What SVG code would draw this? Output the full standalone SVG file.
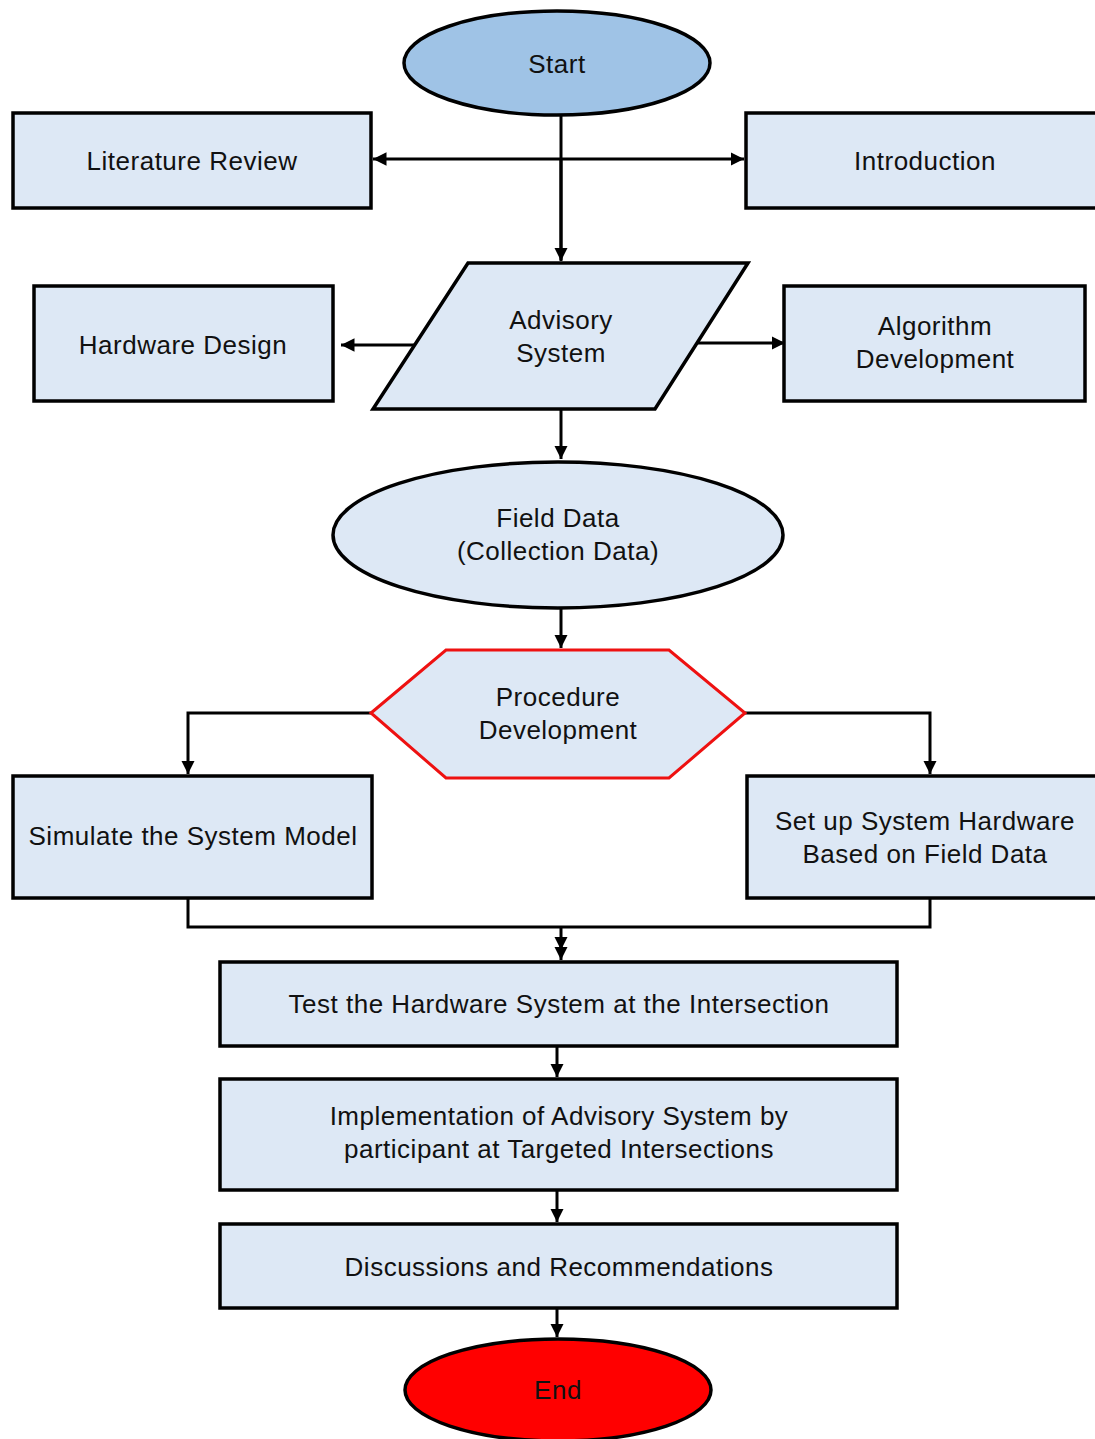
<svg xmlns="http://www.w3.org/2000/svg" width="1095" height="1439" viewBox="0 0 1095 1439">
<defs>
<marker id="ah" viewBox="0 0 10 10" refX="10" refY="5" markerWidth="4.5" markerHeight="4.5" orient="auto" markerUnits="strokeWidth">
<path d="M0,0 L10,5 L0,10 z" fill="#000"/>
</marker>
<style>
.box{fill:#dde8f5;stroke:#000;stroke-width:3.5}
.t{font-family:"Liberation Sans",Arial,sans-serif;font-size:26px;letter-spacing:0.5px;fill:#111;text-anchor:middle}
.c{fill:none;stroke:#000;stroke-width:3}
.ca{fill:none;stroke:#000;stroke-width:3;marker-end:url(#ah)}
</style>
</defs>
<rect width="1095" height="1439" fill="#fff"/>
<g id="connectors">
<path class="c" d="M561,115 V260"/>
<path class="ca" d="M561,159 H373"/>
<path class="ca" d="M561,159 H744"/>
<path class="ca" d="M561,159 V261"/>
<path class="ca" d="M414,345 H341"/>
<path class="ca" d="M697,343 H785"/>
<path class="ca" d="M561,409 V459"/>
<path class="ca" d="M561,608 V648"/>
<path class="ca" d="M371,713 H188 V774"/>
<path class="ca" d="M745,713 H930 V774"/>
<path class="c" d="M188,898 V927 H930 V898"/>
<path class="ca" d="M561,927 V950"/>
<path class="ca" d="M561,940 V960"/>
<path class="ca" d="M557,1046 V1077"/>
<path class="ca" d="M557,1190 V1222"/>
<path class="ca" d="M557,1308 V1337"/>
</g>
<g id="start">
<ellipse cx="557" cy="63" rx="153" ry="52" fill="#9fc3e6" stroke="#000" stroke-width="3.5"/>
<text class="t" x="557" y="73">Start</text>
</g>
<g id="literature-review">
<rect class="box" x="13" y="113" width="358" height="95"/>
<text class="t" x="192" y="170">Literature Review</text>
</g>
<g id="introduction">
<rect class="box" x="746" y="113" width="360" height="95"/>
<text class="t" x="925" y="170">Introduction</text>
</g>
<g id="advisory-system">
<polygon class="box" points="468,263 748,263 655,409 373,409"/>
<text class="t" x="561" y="329">Advisory</text>
<text class="t" x="561" y="362">System</text>
</g>
<g id="hardware-design">
<rect class="box" x="34" y="286" width="299" height="115"/>
<text class="t" x="183" y="354">Hardware Design</text>
</g>
<g id="algorithm-development">
<rect class="box" x="784" y="286" width="301" height="115"/>
<text class="t" x="935" y="335">Algorithm</text>
<text class="t" x="935" y="368">Development</text>
</g>
<g id="field-data">
<ellipse cx="558" cy="535" rx="225" ry="73" fill="#dde8f5" stroke="#000" stroke-width="3.5"/>
<text class="t" x="558" y="527">Field Data</text>
<text class="t" x="558" y="560">(Collection Data)</text>
</g>
<g id="procedure-development">
<polygon points="371,713 446,650 669,650 745,713 669,778 446,778" fill="#dde8f5" stroke="#ee1111" stroke-width="3"/>
<text class="t" x="558" y="706">Procedure</text>
<text class="t" x="558" y="739">Development</text>
</g>
<g id="simulate">
<rect class="box" x="13" y="776" width="359" height="122"/>
<text class="t" x="193" y="845">Simulate the System Model</text>
</g>
<g id="setup-hardware">
<rect class="box" x="747" y="776" width="360" height="122"/>
<text class="t" x="925" y="830">Set up System Hardware</text>
<text class="t" x="925" y="863">Based on Field Data</text>
</g>
<g id="test-hardware">
<rect class="box" x="220" y="962" width="677" height="84"/>
<text class="t" x="559" y="1013">Test the Hardware System at the Intersection</text>
</g>
<g id="implementation">
<rect class="box" x="220" y="1079" width="677" height="111"/>
<text class="t" x="559" y="1125">Implementation of Advisory System by</text>
<text class="t" x="559" y="1158">participant at Targeted Intersections</text>
</g>
<g id="discussions">
<rect class="box" x="220" y="1224" width="677" height="84"/>
<text class="t" x="559" y="1276">Discussions and Recommendations</text>
</g>
<g id="end">
<ellipse cx="558" cy="1390" rx="153" ry="51" fill="#ff0000" stroke="#000" stroke-width="3.5"/>
<text class="t" x="558" y="1399">End</text>
</g>
</svg>
